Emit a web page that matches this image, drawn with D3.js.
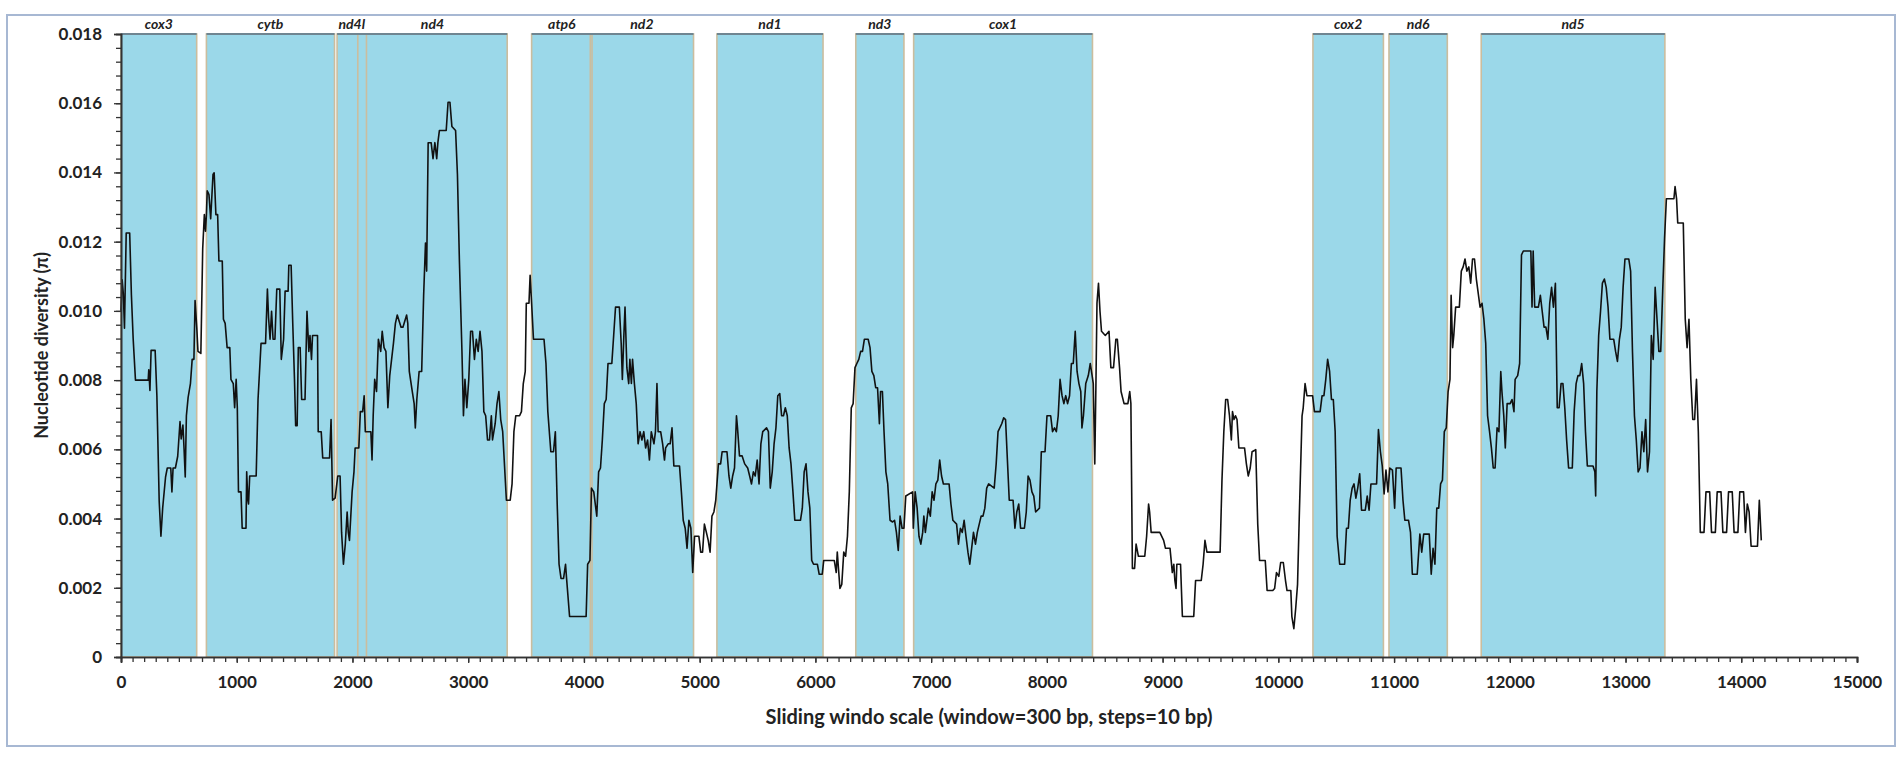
<!DOCTYPE html>
<html>
<head>
<meta charset="utf-8">
<script src="https://cdn.jsdelivr.net/npm/d3@7"></script>
<style>
  body { margin: 0; background: #fff; }
  svg text { font-family: Lato, "Open Sans", "DejaVu Sans", sans-serif; }
</style>
</head>
<body>
<svg id="chart"></svg>
<script>
// gene blocks along the mitogenome (bp)
const geneNames = ['cox3', 'cytb', 'nd4l', 'nd4', 'atp6', 'nd2', 'nd1', 'nd3', 'cox1', 'cox2', 'nd6', 'nd5'];
const geneStart = [0, 738, 1867, 2046, 3548, 4055, 5149, 6349, 6849, 10299, 10956, 11753];
const geneEnd = [654, 1845, 2121, 3337, 4070, 4947, 6066, 6765, 8394, 10908, 11460, 13340];

const xTickValues = [0, 1000, 2000, 3000, 4000, 5000, 6000, 7000, 8000, 9000, 10000, 11000, 12000, 13000, 14000, 15000];
const yTickValues = [0, 0.002, 0.004, 0.006, 0.008, 0.010, 0.012, 0.014, 0.016, 0.018];

// sliding window nucleotide diversity: [window midpoint (bp), pi]
const piSeries = [
  [0, 0.01000], [10, 0.01090], [20, 0.01050], [30, 0.00950], [45, 0.01225], [75, 0.01225], [90, 0.01045],
  [105, 0.00920], [125, 0.00800], [235, 0.00800], [240, 0.00830], [250, 0.00770], [260, 0.00886], [295, 0.00886],
  [310, 0.00755], [330, 0.00450], [345, 0.00349], [360, 0.00430], [385, 0.00520], [400, 0.00546], [430, 0.00546],
  [440, 0.00477], [450, 0.00546], [470, 0.00546], [490, 0.00580], [510, 0.00680], [520, 0.00630], [535, 0.00670],
  [545, 0.00600], [555, 0.00520], [565, 0.00697], [580, 0.00750], [600, 0.00790], [615, 0.00860], [630, 0.00860],
  [640, 0.01030], [655, 0.00950], [665, 0.00883], [690, 0.00877], [706, 0.01180], [720, 0.01278], [730, 0.01230],
  [738, 0.01278], [745, 0.01347], [760, 0.01336], [775, 0.01266], [795, 0.01394], [805, 0.01399], [820, 0.01278],
  [835, 0.01278], [846, 0.01144], [875, 0.01144], [885, 0.00976], [900, 0.00964], [917, 0.00894], [940, 0.00894],
  [950, 0.00802], [970, 0.00790], [982, 0.00720], [995, 0.00802], [1005, 0.00720], [1015, 0.00477], [1037, 0.00477],
  [1047, 0.00372], [1080, 0.00372], [1086, 0.00535], [1096, 0.00453], [1102, 0.00442], [1112, 0.00523], [1168, 0.00523],
  [1184, 0.00744], [1210, 0.00906], [1249, 0.00906], [1265, 0.01063], [1275, 0.00981], [1288, 0.00918], [1301, 0.00999],
  [1314, 0.00918], [1330, 0.00918], [1346, 0.01063], [1372, 0.01063], [1385, 0.00860], [1405, 0.00918], [1418, 0.01057],
  [1444, 0.01057], [1450, 0.01132], [1470, 0.01132], [1483, 0.00976], [1499, 0.00802], [1509, 0.00668], [1522, 0.00668],
  [1532, 0.00894], [1548, 0.00894], [1561, 0.00744], [1590, 0.00744], [1607, 0.00999], [1623, 0.00883], [1633, 0.00929],
  [1646, 0.00860], [1655, 0.00929], [1698, 0.00929], [1704, 0.00651], [1730, 0.00651], [1743, 0.00575], [1802, 0.00575],
  [1815, 0.00686], [1828, 0.00453], [1850, 0.00459], [1873, 0.00523], [1893, 0.00523], [1906, 0.00360], [1922, 0.00268],
  [1938, 0.00326], [1954, 0.00419], [1964, 0.00360], [1974, 0.00337], [1997, 0.00477], [2013, 0.00535], [2023, 0.00604],
  [2055, 0.00604], [2068, 0.00709], [2088, 0.00709], [2101, 0.00755], [2111, 0.00651], [2159, 0.00651], [2169, 0.00569],
  [2179, 0.00697], [2192, 0.00802], [2208, 0.00767], [2224, 0.00918], [2244, 0.00883], [2257, 0.00941], [2273, 0.00894],
  [2289, 0.00883], [2306, 0.00720], [2322, 0.00813], [2354, 0.00906], [2371, 0.00964], [2387, 0.00988], [2420, 0.00953],
  [2436, 0.00953], [2468, 0.00988], [2478, 0.00964], [2491, 0.00825], [2517, 0.00767], [2533, 0.00732], [2543, 0.00662],
  [2556, 0.00744], [2576, 0.00825], [2598, 0.00825], [2615, 0.01045], [2631, 0.01196], [2641, 0.01115], [2654, 0.01486],
  [2680, 0.01486], [2696, 0.01440], [2712, 0.01486], [2728, 0.01440], [2738, 0.01486], [2751, 0.01521], [2810, 0.01521],
  [2826, 0.01603], [2842, 0.01603], [2859, 0.01533], [2891, 0.01521], [2907, 0.01394], [2924, 0.01144], [2946, 0.00883],
  [2959, 0.00697], [2972, 0.00802], [2988, 0.00720], [3005, 0.00802], [3021, 0.00941], [3037, 0.00941], [3054, 0.00860],
  [3070, 0.00918], [3086, 0.00883], [3102, 0.00941], [3119, 0.00883], [3135, 0.00709], [3151, 0.00697], [3167, 0.00627],
  [3184, 0.00627], [3200, 0.00697], [3210, 0.00627], [3233, 0.00674], [3249, 0.00732], [3265, 0.00767], [3281, 0.00686],
  [3298, 0.00651], [3330, 0.00453], [3363, 0.00453], [3379, 0.00500], [3395, 0.00651], [3411, 0.00697], [3444, 0.00697],
  [3460, 0.00709], [3476, 0.00790], [3493, 0.00825], [3502, 0.01022], [3525, 0.01022], [3535, 0.01103], [3548, 0.01022],
  [3564, 0.00918], [3655, 0.00918], [3672, 0.00848], [3688, 0.00709], [3714, 0.00593], [3737, 0.00593], [3753, 0.00651],
  [3769, 0.00442], [3785, 0.00268], [3802, 0.00227], [3824, 0.00227], [3841, 0.00268], [3850, 0.00227], [3876, 0.00117],
  [4019, 0.00117], [4032, 0.00268], [4052, 0.00279], [4065, 0.00488], [4085, 0.00477], [4111, 0.00407], [4127, 0.00535],
  [4143, 0.00546], [4159, 0.00627], [4176, 0.00732], [4192, 0.00744], [4208, 0.00848], [4241, 0.00848], [4257, 0.00929],
  [4273, 0.01011], [4306, 0.01011], [4322, 0.00906], [4332, 0.00802], [4345, 0.00929], [4355, 0.01011], [4371, 0.00836],
  [4387, 0.00790], [4397, 0.00860], [4410, 0.00790], [4420, 0.00860], [4436, 0.00790], [4452, 0.00732], [4468, 0.00616],
  [4485, 0.00651], [4501, 0.00627], [4517, 0.00651], [4533, 0.00604], [4550, 0.00627], [4566, 0.00569], [4582, 0.00651],
  [4605, 0.00616], [4618, 0.00651], [4631, 0.00790], [4641, 0.00651], [4663, 0.00651], [4680, 0.00616], [4696, 0.00569],
  [4706, 0.00604], [4728, 0.00616], [4745, 0.00616], [4761, 0.00662], [4777, 0.00552], [4826, 0.00552], [4842, 0.00477],
  [4858, 0.00395], [4875, 0.00372], [4891, 0.00314], [4907, 0.00395], [4924, 0.00372], [4940, 0.00244], [4956, 0.00349],
  [4976, 0.00349], [4993, 0.00349], [5009, 0.00303], [5025, 0.00303], [5041, 0.00384], [5058, 0.00360], [5074, 0.00337],
  [5090, 0.00303], [5106, 0.00407], [5123, 0.00419], [5139, 0.00453], [5162, 0.00558], [5181, 0.00558], [5194, 0.00593],
  [5236, 0.00593], [5253, 0.00523], [5269, 0.00488], [5285, 0.00523], [5301, 0.00546], [5318, 0.00697], [5327, 0.00662],
  [5344, 0.00581], [5367, 0.00581], [5389, 0.00558], [5415, 0.00546], [5432, 0.00523], [5448, 0.00500], [5464, 0.00535],
  [5480, 0.00523], [5497, 0.00569], [5513, 0.00500], [5529, 0.00616], [5545, 0.00651], [5578, 0.00662], [5594, 0.00651],
  [5610, 0.00488], [5627, 0.00535], [5643, 0.00616], [5659, 0.00662], [5675, 0.00755], [5692, 0.00761], [5708, 0.00697],
  [5724, 0.00697], [5740, 0.00720], [5757, 0.00697], [5773, 0.00604], [5789, 0.00558], [5806, 0.00477], [5822, 0.00395],
  [5871, 0.00395], [5887, 0.00430], [5903, 0.00535], [5919, 0.00558], [5936, 0.00477], [5952, 0.00430], [5968, 0.00279],
  [5984, 0.00268], [6017, 0.00268], [6033, 0.00239], [6059, 0.00239], [6072, 0.00279], [6163, 0.00279], [6180, 0.00244],
  [6189, 0.00303], [6202, 0.00244], [6212, 0.00198], [6228, 0.00210], [6245, 0.00303], [6261, 0.00291], [6277, 0.00349],
  [6293, 0.00477], [6310, 0.00720], [6326, 0.00732], [6342, 0.00836], [6358, 0.00848], [6375, 0.00860], [6391, 0.00883],
  [6407, 0.00883], [6423, 0.00918], [6456, 0.00918], [6472, 0.00894], [6488, 0.00825], [6505, 0.00813], [6521, 0.00778],
  [6537, 0.00778], [6553, 0.00674], [6563, 0.00767], [6579, 0.00767], [6593, 0.00651], [6609, 0.00535], [6625, 0.00500],
  [6645, 0.00395], [6667, 0.00390], [6684, 0.00395], [6700, 0.00360], [6716, 0.00308], [6732, 0.00407], [6749, 0.00372],
  [6765, 0.00372], [6781, 0.00465], [6840, 0.00477], [6846, 0.00372], [6862, 0.00477], [6879, 0.00430], [6895, 0.00349],
  [6911, 0.00326], [6927, 0.00360], [6937, 0.00407], [6950, 0.00360], [6976, 0.00430], [6993, 0.00407], [7009, 0.00477],
  [7025, 0.00453], [7041, 0.00500], [7058, 0.00511], [7074, 0.00569], [7090, 0.00523], [7106, 0.00500], [7155, 0.00500],
  [7171, 0.00442], [7188, 0.00395], [7220, 0.00384], [7236, 0.00326], [7253, 0.00372], [7269, 0.00360], [7285, 0.00395],
  [7301, 0.00349], [7318, 0.00303], [7334, 0.00268], [7350, 0.00314], [7366, 0.00360], [7383, 0.00326], [7399, 0.00360],
  [7432, 0.00407], [7448, 0.00407], [7464, 0.00430], [7480, 0.00488], [7497, 0.00500], [7545, 0.00488], [7562, 0.00558],
  [7578, 0.00651], [7610, 0.00674], [7627, 0.00691], [7643, 0.00686], [7659, 0.00569], [7675, 0.00453], [7708, 0.00453],
  [7724, 0.00372], [7740, 0.00419], [7757, 0.00442], [7773, 0.00372], [7806, 0.00372], [7822, 0.00419], [7838, 0.00523],
  [7854, 0.00511], [7871, 0.00477], [7887, 0.00465], [7903, 0.00419], [7936, 0.00430], [7952, 0.00593], [7984, 0.00593],
  [8001, 0.00697], [8033, 0.00697], [8049, 0.00651], [8066, 0.00662], [8082, 0.00651], [8098, 0.00697], [8114, 0.00802],
  [8131, 0.00755], [8147, 0.00732], [8163, 0.00755], [8179, 0.00732], [8196, 0.00755], [8212, 0.00848], [8228, 0.00848],
  [8245, 0.00941], [8261, 0.00825], [8277, 0.00790], [8293, 0.00767], [8303, 0.00662], [8316, 0.00697], [8336, 0.00790],
  [8358, 0.00813], [8375, 0.00848], [8391, 0.00813], [8401, 0.00790], [8414, 0.00558], [8423, 0.00767], [8433, 0.01022],
  [8446, 0.01080], [8459, 0.00999], [8472, 0.00941], [8505, 0.00929], [8537, 0.00941], [8553, 0.00836], [8576, 0.00836],
  [8596, 0.00918], [8609, 0.00918], [8628, 0.00836], [8641, 0.00767], [8667, 0.00732], [8700, 0.00732], [8716, 0.00767],
  [8726, 0.00732], [8739, 0.00256], [8758, 0.00256], [8771, 0.00326], [8791, 0.00291], [8846, 0.00291], [8862, 0.00349],
  [8879, 0.00442], [8888, 0.00419], [8901, 0.00360], [8976, 0.00360], [9009, 0.00337], [9025, 0.00314], [9064, 0.00314],
  [9074, 0.00279], [9084, 0.00244], [9097, 0.00268], [9106, 0.00221], [9116, 0.00198], [9123, 0.00268], [9155, 0.00268],
  [9171, 0.00117], [9269, 0.00117], [9285, 0.00221], [9334, 0.00221], [9350, 0.00268], [9366, 0.00337], [9383, 0.00303],
  [9497, 0.00303], [9513, 0.00511], [9529, 0.00651], [9545, 0.00744], [9562, 0.00744], [9578, 0.00697], [9594, 0.00627],
  [9604, 0.00709], [9617, 0.00686], [9630, 0.00697], [9643, 0.00686], [9659, 0.00604], [9708, 0.00604], [9724, 0.00558],
  [9740, 0.00523], [9757, 0.00546], [9773, 0.00593], [9805, 0.00599], [9822, 0.00384], [9838, 0.00279], [9887, 0.00279],
  [9903, 0.00192], [9952, 0.00192], [9968, 0.00198], [9984, 0.00244], [10004, 0.00233], [10020, 0.00273], [10043, 0.00273],
  [10062, 0.00221], [10075, 0.00192], [10108, 0.00192], [10117, 0.00117], [10134, 0.00082], [10150, 0.00140], [10166, 0.00210],
  [10182, 0.00419], [10205, 0.00697], [10215, 0.00720], [10231, 0.00790], [10247, 0.00755], [10296, 0.00755], [10312, 0.00709],
  [10361, 0.00709], [10378, 0.00755], [10394, 0.00755], [10410, 0.00802], [10426, 0.00860], [10443, 0.00825], [10459, 0.00744],
  [10475, 0.00744], [10491, 0.00651], [10508, 0.00349], [10530, 0.00268], [10573, 0.00268], [10589, 0.00372], [10605, 0.00372],
  [10621, 0.00453], [10638, 0.00488], [10654, 0.00500], [10670, 0.00459], [10686, 0.00488], [10703, 0.00529], [10719, 0.00424],
  [10751, 0.00424], [10768, 0.00465], [10784, 0.00424], [10800, 0.00500], [10849, 0.00500], [10865, 0.00657], [10882, 0.00593],
  [10898, 0.00552], [10914, 0.00471], [10930, 0.00540], [10947, 0.00477], [10963, 0.00546], [10986, 0.00540], [11005, 0.00430],
  [11018, 0.00546], [11060, 0.00546], [11077, 0.00453], [11093, 0.00395], [11125, 0.00395], [11142, 0.00360], [11158, 0.00239],
  [11200, 0.00239], [11223, 0.00355], [11239, 0.00303], [11256, 0.00355], [11304, 0.00355], [11321, 0.00239], [11337, 0.00314],
  [11353, 0.00268], [11369, 0.00430], [11386, 0.00430], [11402, 0.00500], [11418, 0.00511], [11434, 0.00651], [11451, 0.00662],
  [11467, 0.00767], [11483, 0.00802], [11493, 0.01045], [11506, 0.00894], [11516, 0.00929], [11532, 0.01011], [11564, 0.01011],
  [11581, 0.01115], [11597, 0.01127], [11613, 0.01150], [11629, 0.01115], [11646, 0.01127], [11662, 0.01080], [11678, 0.01150],
  [11695, 0.01150], [11711, 0.01092], [11743, 0.01011], [11760, 0.01022], [11776, 0.00976], [11792, 0.00906], [11808, 0.00697],
  [11825, 0.00651], [11841, 0.00604], [11857, 0.00546], [11873, 0.00546], [11890, 0.00662], [11906, 0.00651], [11922, 0.00825],
  [11932, 0.00767], [11948, 0.00697], [11961, 0.00604], [11977, 0.00732], [12003, 0.00732], [12019, 0.00744], [12036, 0.00709],
  [12046, 0.00802], [12068, 0.00813], [12085, 0.00848], [12101, 0.01162], [12117, 0.01173], [12182, 0.01173], [12192, 0.01011],
  [12202, 0.01173], [12215, 0.01011], [12247, 0.01011], [12264, 0.01045], [12280, 0.00999], [12296, 0.00953], [12312, 0.00953],
  [12329, 0.00918], [12345, 0.01022], [12361, 0.01068], [12377, 0.01011], [12394, 0.01080], [12410, 0.00720], [12426, 0.00720],
  [12443, 0.00790], [12459, 0.00790], [12475, 0.00720], [12491, 0.00627], [12508, 0.00546], [12540, 0.00546], [12556, 0.00709],
  [12573, 0.00790], [12589, 0.00813], [12605, 0.00813], [12621, 0.00848], [12638, 0.00790], [12654, 0.00651], [12670, 0.00552],
  [12719, 0.00552], [12735, 0.00535], [12742, 0.00465], [12752, 0.00767], [12768, 0.00929], [12784, 0.00999], [12800, 0.01080],
  [12817, 0.01092], [12833, 0.01068], [12849, 0.01011], [12865, 0.00918], [12898, 0.00918], [12914, 0.00883], [12930, 0.00854],
  [12947, 0.00918], [12963, 0.00953], [12979, 0.01068], [12995, 0.01150], [13028, 0.01150], [13044, 0.01115], [13060, 0.00883],
  [13077, 0.00697], [13093, 0.00627], [13109, 0.00535], [13125, 0.00546], [13142, 0.00651], [13158, 0.00593], [13174, 0.00686],
  [13190, 0.00535], [13207, 0.00593], [13223, 0.00929], [13239, 0.00860], [13256, 0.01068], [13272, 0.00976], [13288, 0.00883],
  [13304, 0.00883], [13321, 0.01057], [13337, 0.01208], [13353, 0.01324], [13418, 0.01324], [13428, 0.01359], [13441, 0.01324],
  [13451, 0.01254], [13499, 0.01254], [13516, 0.00976], [13532, 0.00894], [13548, 0.00976], [13564, 0.00802], [13581, 0.00686],
  [13597, 0.00686], [13613, 0.00802], [13629, 0.00651], [13646, 0.00360], [13678, 0.00360], [13695, 0.00477], [13727, 0.00477],
  [13743, 0.00360], [13776, 0.00360], [13792, 0.00477], [13825, 0.00477], [13841, 0.00360], [13873, 0.00360], [13890, 0.00477],
  [13922, 0.00477], [13938, 0.00360], [13971, 0.00360], [13987, 0.00477], [14020, 0.00477], [14036, 0.00360], [14052, 0.00442],
  [14068, 0.00419], [14085, 0.00320], [14140, 0.00320], [14156, 0.00453], [14173, 0.00337]
];

const W = 1902, H = 758;
const plot = {left: 121, right: 1857, top: 34, bottom: 657};

const svg = d3.select('#chart')
    .attr('width', W)
    .attr('height', H);

// outer frame of the figure
svg.append('rect')
    .attr('x', 7)
    .attr('y', 15)
    .attr('width', 1888)
    .attr('height', 731)
    .attr('fill', 'none')
    .attr('stroke', '#a7b8d3')
    .attr('stroke-width', 2);

const xScale = d3.scaleLinear().domain([0, 15000]).range([plot.left, plot.right]);
const yScale = d3.scaleLinear().domain([0, 0.018]).range([plot.bottom, plot.top]);

const genes = geneNames.map((name, i) => ({name, start: geneStart[i], end: geneEnd[i]}));

// gene blocks: fills first, then edges so that overlaps keep both borders
const geneLayer = svg.append('g');
geneLayer.selectAll('.gene-fill')
    .data(genes)
    .join('rect')
    .attr('class', 'gene-fill')
    .attr('x', d => xScale(d.start))
    .attr('width', d => xScale(d.end) - xScale(d.start))
    .attr('y', yScale(0.018))
    .attr('height', yScale(0) - yScale(0.018))
    .attr('fill', '#9bd8e9');

geneLayer.selectAll('.gene-edge')
    .data(genes)
    .join('rect')
    .attr('class', 'gene-edge')
    .attr('x', d => xScale(d.start))
    .attr('width', d => xScale(d.end) - xScale(d.start))
    .attr('y', yScale(0.018))
    .attr('height', yScale(0) - yScale(0.018))
    .attr('fill', 'none')
    .attr('stroke', '#cbbd9e')
    .attr('stroke-width', 1.6);

geneLayer.selectAll('.gene-top')
    .data(genes)
    .join('line')
    .attr('class', 'gene-top')
    .attr('x1', d => xScale(d.start))
    .attr('x2', d => xScale(d.end))
    .attr('y1', yScale(0.018))
    .attr('y2', yScale(0.018))
    .attr('stroke', '#6f8591')
    .attr('stroke-width', 2);

geneLayer.selectAll('.gene-label')
    .data(genes)
    .join('text')
    .attr('class', 'gene-label')
    .attr('x', d => xScale((d.start + d.end) / 2))
    .attr('y', 29)
    .attr('text-anchor', 'middle')
    .attr('font-size', 14)
    .attr('font-weight', 'bold')
    .attr('font-style', 'italic')
    .attr('fill', '#222')
    .text(d => d.name);

// diversity curve
const line = d3.line()
    .x(d => xScale(d[0]))
    .y(d => yScale(d[1]));

svg.append('path')
    .datum(piSeries)
    .attr('d', line)
    .attr('fill', 'none')
    .attr('stroke', '#111')
    .attr('stroke-width', 1.6)
    .attr('stroke-linejoin', 'round');

// axes
const xMinor = svg.append('g')
    .attr('transform', `translate(0,${plot.bottom})`)
    .call(d3.axisBottom(xScale).tickValues(d3.range(0, 15001, 100)).tickSize(5).tickFormat(''));

const xAxisGroup = svg.append('g')
    .attr('transform', `translate(0,${plot.bottom})`)
    .call(d3.axisBottom(xScale).tickValues(xTickValues).tickSize(6).tickPadding(13).tickFormat(d3.format('d')));

const yMinor = svg.append('g')
    .attr('transform', `translate(${plot.left},0)`)
    .call(d3.axisLeft(yScale).tickValues(d3.range(0, 0.01801, 0.0004)).tickSize(5).tickFormat(''));

const yAxisGroup = svg.append('g')
    .attr('transform', `translate(${plot.left},0)`)
    .call(d3.axisLeft(yScale).tickValues(yTickValues).tickSize(7).tickPadding(12)
        .tickFormat(d => d === 0 ? '0' : d3.format('.3f')(d)));

[xMinor, xAxisGroup, yMinor, yAxisGroup].forEach(g => {
    g.selectAll('.domain').attr('stroke', '#333').attr('stroke-width', 1.6);
    g.selectAll('.tick line').attr('stroke', '#333').attr('stroke-width', 1.3);
    g.selectAll('.tick text')
        .attr('font-size', 17)
        .attr('font-weight', 'bold')
        .attr('fill', '#222')
        .style('font-family', 'Lato, "Open Sans", sans-serif');
});

// axis titles
svg.append('text')
    .attr('x', (plot.left + plot.right) / 2)
    .attr('y', 724)
    .attr('text-anchor', 'middle')
    .attr('font-size', 20)
    .attr('font-weight', 'bold')
    .attr('fill', '#222')
    .text('Sliding windo scale (window=300 bp, steps=10 bp)');

svg.append('text')
    .attr('transform', `translate(48,${(plot.top + plot.bottom) / 2}) rotate(-90)`)
    .attr('text-anchor', 'middle')
    .attr('font-size', 18)
    .attr('font-weight', 'bold')
    .attr('fill', '#222')
    .text('Nucleotide diversity (π)');
</script>
</body>
</html>
